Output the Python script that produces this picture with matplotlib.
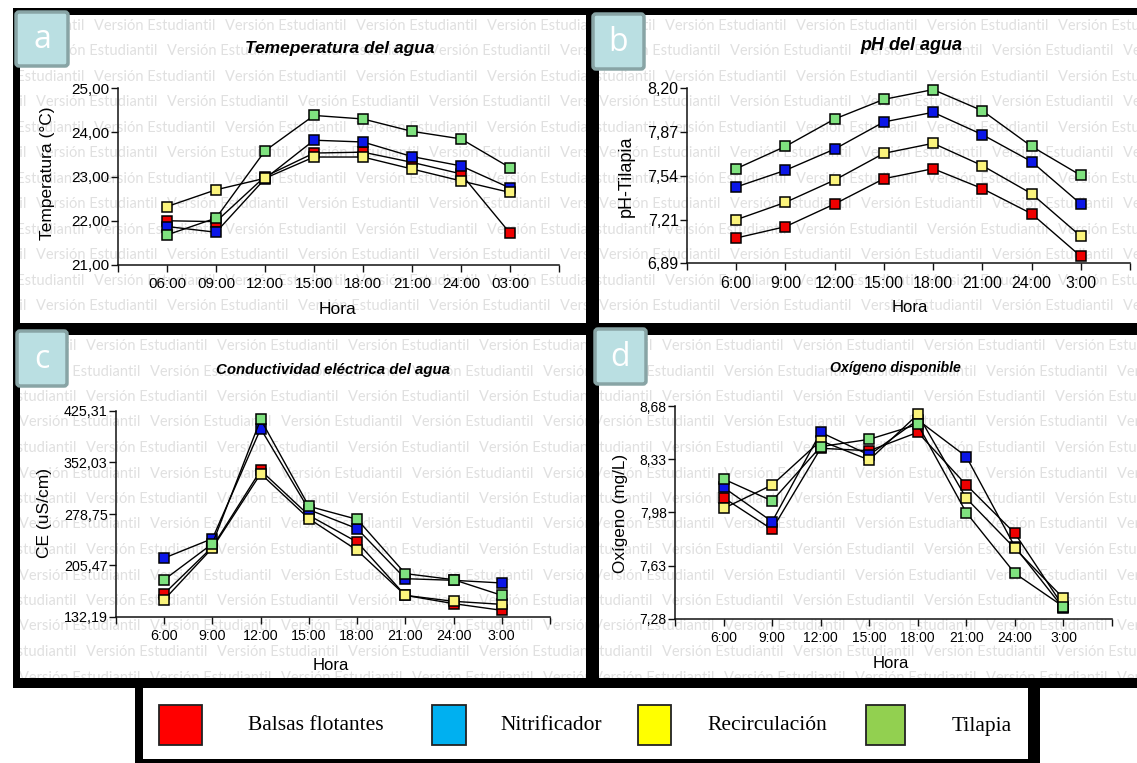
import matplotlib
matplotlib.use('Agg')
import matplotlib.pyplot as plt
from matplotlib.patches import Rectangle, FancyBboxPatch
from matplotlib.ticker import FixedLocator, FuncFormatter

# ---------------- data ----------------
hours_a = ['06:00', '09:00', '12:00', '15:00', '18:00', '21:00', '24:00', '03:00']
hours = ['6:00', '9:00', '12:00', '15:00', '18:00', '21:00', '24:00', '3:00']
series_names = ['Balsas flotantes', 'Nitrificador', 'Recirculación', 'Tilapia']

temp_balsas = [22.00, 21.98, 23.00, 23.53, 23.55, 23.32, 23.06, 21.72]
temp_nitrif = [21.87, 21.74, 22.95, 23.82, 23.78, 23.45, 23.24, 22.74]
temp_recirc = [22.32, 22.70, 22.96, 23.44, 23.44, 23.17, 22.90, 22.64]
temp_tilapia = [21.68, 22.06, 23.58, 24.38, 24.30, 24.02, 23.85, 23.20]

ph_balsas = [7.077, 7.162, 7.332, 7.521, 7.596, 7.447, 7.259, 6.940]
ph_nitrif = [7.459, 7.584, 7.743, 7.946, 8.018, 7.851, 7.649, 7.332]
ph_recirc = [7.214, 7.344, 7.511, 7.711, 7.786, 7.619, 7.409, 7.090]
ph_tilapia = [7.596, 7.763, 7.968, 8.115, 8.188, 8.030, 7.763, 7.546]

ce_balsas = [165.4, 232.0, 340.9, 276.8, 238.9, 163.0, 151.2, 141.7]
ce_nitrif = [216.1, 243.7, 400.2, 284.9, 257.9, 186.7, 184.4, 180.6]
ce_recirc = [156.9, 230.4, 336.1, 272.1, 227.1, 163.0, 154.5, 150.2]
ce_tilapia = [185.3, 236.5, 413.4, 289.7, 271.2, 193.9, 185.3, 163.0]

ox_balsas = [8.077, 7.869, 8.402, 8.386, 8.507, 8.161, 7.843, 7.361]
ox_nitrif = [8.145, 7.920, 8.507, 8.358, 8.588, 8.347, 7.755, 7.350]
ox_recirc = [8.007, 8.161, 8.452, 8.325, 8.625, 8.073, 7.744, 7.416]
ox_tilapia = [8.200, 8.056, 8.413, 8.461, 8.559, 7.979, 7.580, 7.361]

yticks_temp = [21.00, 22.00, 23.00, 24.00, 25.00]
yticks_ph = [6.89, 7.21, 7.54, 7.87, 8.20]
yticks_ce = [132.19, 205.47, 278.75, 352.03, 425.31]
yticks_ox = [7.28, 7.63, 7.98, 8.33, 8.68]

marker_colors = ['#ee0000', '#0b16e8', '#fbf47c', '#7fe27f']
legend_colors = ['#ff0000', '#00b0f0', '#ffff00', '#92d050']

# ---------------- figure ----------------
W, H = 1137, 763
fig = plt.figure(figsize=(W / 100, H / 100), dpi=100)
fig.patch.set_facecolor('white')


def pixel_axes(x0, y0, x1, y1, z):
    a = fig.add_axes([x0 / W, 1 - y1 / H, (x1 - x0) / W, (y1 - y0) / H])
    a.set_xlim(x0, x1)
    a.set_ylim(y1, y0)
    a.axis('off')
    a.set_zorder(z)
    return a


SANS = 'Liberation Sans'

# background layer: black frames
bg = pixel_axes(0, 0, W, H, 0)
bg.add_patch(Rectangle((13, 8), W + 20 - 13, 688 - 8, facecolor='black', edgecolor='none'))
inner = {
    'a': (20, 15, 586, 323),
    'b': (599, 15, W, 323),
    'c': (20, 335, 586, 678),
    'd': (599, 335, W, 678),
}

# watermark layers (one per panel, clipped to the panel)
wm_start = {'a': (94, 167), 'b': (665, 730), 'c': (86, 150), 'd': (662, 724)}
for k, (x0, y0, x1, y1) in inner.items():
    wa = pixel_axes(x0, y0, x1, y1, 1)
    wa.add_patch(Rectangle((x0, y0), x1 - x0, y1 - y0, facecolor='white', edgecolor='none'))
    s0, s1 = wm_start[k]
    y = y0 + 11
    row = 0
    while y < y1 + 10:
        start = s0 if row % 2 == 0 else s1
        x = start - 131 * 2
        while x < x1:
            wa.text(x, y, 'Versión Estudiantil', fontsize=10.5, family='Lato',
                    color='#e0e0e0', ha='left', va='center', clip_on=True)
            x += 131
        y += 25.5
        row += 1

# overlay layer: letter boxes, titles, labels, legend
ov = pixel_axes(0, 0, W, H, 20)
ov.patch.set_alpha(0)

letter_boxes = {'a': (14, 10, 70, 68), 'b': (591, 12, 646, 71),
                'c': (15, 329, 69, 388), 'd': (593, 327, 648, 386)}
for k, (x0, y0, x1, y1) in letter_boxes.items():
    ov.add_patch(FancyBboxPatch((x0 + 2, y0 + 2), x1 - x0 - 4, y1 - y0 - 4,
                                boxstyle='round,pad=0,rounding_size=3',
                                facecolor='#badfe2', edgecolor='#88a4a5', lw=2.5))
    ov.text((x0 + x1) / 2, (y0 + y1) / 2 + 1, k, fontsize=23, family='Open Sans',
            color='white', ha='center', va='center')

# legend box
ov.add_patch(Rectangle((135, 680), 1040 - 135, H + 5 - 680, facecolor='black', edgecolor='none'))
ov.add_patch(Rectangle((143, 688), 1028 - 143, 759 - 688, facecolor='white', edgecolor='none'))
sq_left = [159, 432, 638, 866]
sq_width = [43, 34, 33, 39]
txt_left = [248, 500, 707, 952]
for i, name in enumerate(series_names):
    ov.add_patch(Rectangle((sq_left[i], 705), sq_width[i], 40, facecolor=legend_colors[i],
                           edgecolor='#222222', lw=1.3))
    ov.text(txt_left[i], 726, name, fontsize=15.5, family='Liberation Serif',
            color='black', ha='left', va='center')


def comma_fmt(v, p):
    return f'{v:.2f}'.replace('.', ',')


def make_panel(box, labels, series, yticks, tick_fs, title, title_pos, title_fs,
               ylabel, ylabel_pos, ylabel_fs, hora_pos, hora_fs):
    x0, y0, x1, y1 = box
    ax = fig.add_axes([x0 / W, 1 - y1 / H, (x1 - x0) / W, (y1 - y0) / H])
    ax.set_zorder(10)
    ax.patch.set_alpha(0)
    xs = list(range(1, len(labels) + 1))
    for vals, col in zip(series, marker_colors):
        ax.plot(xs, vals, color='black', lw=1.0, marker='s', markersize=7.4,
                markerfacecolor=col, markeredgecolor='black', markeredgewidth=1.1,
                clip_on=False, zorder=3)
    ax.set_xlim(0, len(labels) + 1)
    ax.set_ylim(yticks[0], yticks[-1])
    ax.set_xticks(xs)
    ax.set_xticklabels(labels)
    ax.xaxis.set_minor_locator(FixedLocator([0, len(labels) + 1]))
    ax.yaxis.set_major_locator(FixedLocator(yticks))
    ax.yaxis.set_major_formatter(FuncFormatter(comma_fmt))
    for s in ['top', 'right']:
        ax.spines[s].set_visible(False)
    for s in ['left', 'bottom']:
        ax.spines[s].set_linewidth(1.1)
        ax.spines[s].set_color('#111111')
    ax.tick_params(axis='both', which='both', direction='out', length=5, width=1.0,
                   colors='#111111', labelcolor='black')
    ax.tick_params(axis='x', pad=4, labelsize=tick_fs)
    ax.tick_params(axis='y', pad=1, labelsize=tick_fs)
    for lab in ax.get_xticklabels() + ax.get_yticklabels():
        lab.set_family(SANS)
    ov.text(title_pos[0], title_pos[1], title, fontsize=title_fs, family=SANS,
            fontweight='bold', style='italic', ha='center', va='center')
    ov.text(ylabel_pos[0], ylabel_pos[1], ylabel, fontsize=ylabel_fs, family=SANS,
            rotation=90, ha='center', va='center')
    ov.text(hora_pos[0], hora_pos[1], 'Hora', fontsize=hora_fs, family=SANS,
            ha='center', va='center')
    return ax


make_panel((118, 88, 559, 265), hours_a,
           [temp_balsas, temp_nitrif, temp_recirc, temp_tilapia], yticks_temp, 11,
           'Temeperatura del agua', (340, 49), 12.5,
           'Temperatura (°C)', (48, 173), 12.5, (338, 310), 12.5)

make_panel((687, 88, 1130, 263), hours,
           [ph_balsas, ph_nitrif, ph_recirc, ph_tilapia], yticks_ph, 11.5,
           'pH del agua', (911, 45), 13,
           'pH-Tilapia', (626, 176), 13, (910, 308), 12)

make_panel((116, 411, 550, 617), hours,
           [ce_balsas, ce_nitrif, ce_recirc, ce_tilapia], yticks_ce, 10.3,
           'Conductividad eléctrica del agua', (333, 370), 10.8,
           'CE (uS/cm)', (44, 513), 12.5, (331, 665), 12)

make_panel((675, 406, 1112, 619), hours,
           [ox_balsas, ox_nitrif, ox_recirc, ox_tilapia], yticks_ox, 10,
           'Oxígeno disponible', (895, 368), 10.2,
           'Oxígeno (mg/L)', (621, 513), 12.3, (891, 664), 12)

fig.savefig('out.png', dpi=100, facecolor='white')
